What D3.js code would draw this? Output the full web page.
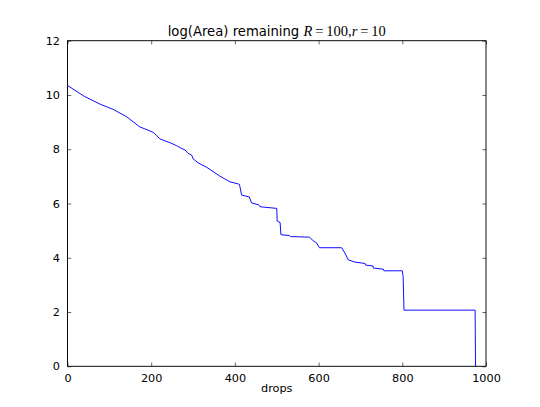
<!DOCTYPE html>
<html>
<head>
<meta charset="utf-8">
<script src="https://cdn.jsdelivr.net/npm/d3@7"></script>
<style>
  html, body { margin: 0; padding: 0; background: #fff; }
  svg { display: block; }
  text { font-family: "DejaVu Sans", sans-serif; fill: #000; }
</style>
</head>
<body>
<div id="chart"></div>
<script>
// ---- data ----
const drops = [0, 40, 78, 109, 141, 173, 185, 205, 212, 221, 245, 261, 270, 281, 288, 297, 300, 312, 333, 364, 388, 408, 411, 416, 432, 434, 440, 457, 460, 500, 501, 508, 510, 530, 533, 578, 587, 595, 602, 655, 663, 671, 687, 711, 712, 730, 731, 755, 756, 800, 802, 804, 974, 975];
const logArea = [10.35, 9.95, 9.66, 9.47, 9.20, 8.82, 8.75, 8.62, 8.52, 8.38, 8.24, 8.13, 8.05, 7.97, 7.85, 7.78, 7.65, 7.50, 7.33, 7.01, 6.80, 6.72, 6.70, 6.31, 6.25, 6.25, 6.02, 5.95, 5.88, 5.82, 5.35, 5.30, 4.85, 4.82, 4.78, 4.76, 4.63, 4.55, 4.37, 4.37, 4.17, 3.92, 3.84, 3.79, 3.73, 3.70, 3.62, 3.58, 3.52, 3.52, 3.30, 2.07, 2.07, 0];
const xTicks = [0, 200, 400, 600, 800, 1000];
const yTicks = [0, 2, 4, 6, 8, 10, 12];
const titleText = "log(Area) remaining ";
const xLabel = "drops";

// ---- layout ----
const W = 540, H = 407;
const mL = 67.5, mR = 486, mT = 40.7, mB = 366.3;
const svg = d3.select("#chart").append("svg").attr("width", W).attr("height", H);

const x = d3.scaleLinear().domain([0, 1000]).range([mL, mR]);
const y = d3.scaleLinear().domain([0, 12]).range([mB, mT]);

const pts = drops.map((d, i) => [d, logArea[i]]);
const clipId = "plotclip";
svg.append("clipPath").attr("id", clipId).append("rect")
  .attr("x", mL).attr("y", mT).attr("width", mR - mL).attr("height", mB - mT);

svg.append("path")
  .datum(pts)
  .attr("clip-path", `url(#${clipId})`)
  .attr("fill", "none")
  .attr("stroke", "#0000ff")
  .attr("stroke-width", 0.95)
  .attr("stroke-linejoin", "miter")
  .attr("d", d3.line().x(d => x(d[0])).y(d => y(d[1])));

// axes (ticks inside, on all four sides)
const tl = 3.75, pad = 3.75, fs = 11.25;
const axB = svg.append("g").attr("transform", `translate(0,${mB})`)
  .call(d3.axisBottom(x).tickValues(xTicks).tickSize(-tl).tickPadding(pad + tl).tickFormat(d3.format("d")));
const axT = svg.append("g").attr("transform", `translate(0,${mT})`)
  .call(d3.axisTop(x).tickValues(xTicks).tickSize(-tl).tickFormat(""));
const axL = svg.append("g").attr("transform", `translate(${mL},0)`)
  .call(d3.axisLeft(y).tickValues(yTicks).tickSize(-tl).tickPadding(pad + tl).tickFormat(d3.format("d")));
const axR = svg.append("g").attr("transform", `translate(${mR},0)`)
  .call(d3.axisRight(y).tickValues(yTicks).tickSize(-tl).tickFormat(""));
[axB, axT, axL, axR].forEach(g => {
  g.select(".domain").remove();
  g.selectAll(".tick line").attr("stroke", "#000").attr("stroke-width", 0.6);
  g.selectAll("text").attr("font-family", "DejaVu Sans").attr("font-size", fs).attr("fill", "#000");
});

// frame
svg.append("rect").attr("x", mL).attr("y", mT).attr("width", mR - mL).attr("height", mB - mT)
  .attr("fill", "none").attr("stroke", "#000").attr("stroke-width", 0.95);

// x label
svg.append("text").attr("x", (mL + mR) / 2).attr("y", 392)
  .attr("text-anchor", "middle").attr("font-size", fs).text(xLabel);

// title with math part
const t = svg.append("text").attr("x", (mL + mR) / 2).attr("y", 35.5)
  .attr("text-anchor", "middle").attr("font-size", 13.2);
t.append("tspan").text(titleText);
const mfont = "Liberation Serif";
const mpart = [["R", true], ["\u2009=\u2009", false], ["100", false], [",", false], ["r", true], ["\u2009=\u2009", false], ["10", false]];
mpart.forEach(([s, it]) => {
  t.append("tspan").attr("font-family", mfont).attr("font-size", 14.5)
    .attr("font-style", it ? "italic" : "normal").text(s);
});
</script>
</body>
</html>
